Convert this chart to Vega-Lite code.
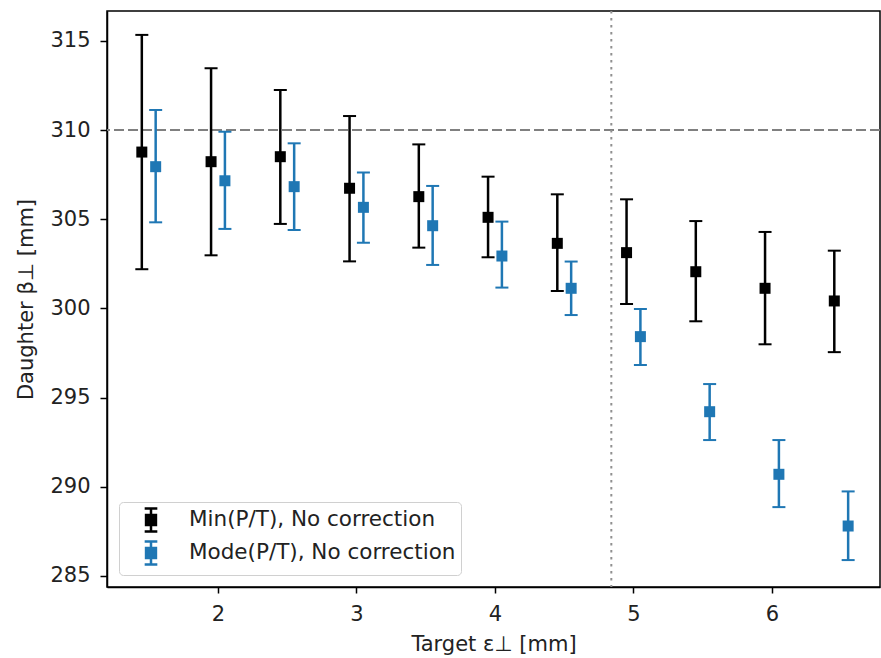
{
  "$schema": "https://vega.github.io/schema/vega-lite/v6.json",
  "width": 773,
  "height": 576,
  "autosize": "none",
  "padding": {"left": 107, "top": 11, "right": 1, "bottom": 71},
  "background": "white",
  "config": {
    "font": "DejaVu Sans",
    "view": {"stroke": "black", "strokeWidth": 1.5},
    "axis": {
      "domainColor": "black",
      "domainWidth": 1.5,
      "tickColor": "black",
      "tickWidth": 1.5,
      "tickSize": 6,
      "labelFontSize": 21,
      "labelColor": "#222222",
      "titleFontSize": 21,
      "titleFontWeight": "normal",
      "titleColor": "#222222",
      "grid": false,
      "labelFlush": false
    }
  },
  "data": {
    "values": [
      {"x": 1.45, "series": "Min(P/T), No correction", "y": 308.77, "lo": 302.2, "hi": 315.34},
      {"x": 1.95, "series": "Min(P/T), No correction", "y": 308.23, "lo": 302.98, "hi": 313.47},
      {"x": 2.45, "series": "Min(P/T), No correction", "y": 308.51, "lo": 304.74, "hi": 312.25},
      {"x": 2.95, "series": "Min(P/T), No correction", "y": 306.74, "lo": 302.64, "hi": 310.79},
      {"x": 3.45, "series": "Min(P/T), No correction", "y": 306.27, "lo": 303.41, "hi": 309.2},
      {"x": 3.95, "series": "Min(P/T), No correction", "y": 305.11, "lo": 302.87, "hi": 307.39},
      {"x": 4.45, "series": "Min(P/T), No correction", "y": 303.65, "lo": 300.98, "hi": 306.4},
      {"x": 4.95, "series": "Min(P/T), No correction", "y": 303.13, "lo": 300.25, "hi": 306.12},
      {"x": 5.45, "series": "Min(P/T), No correction", "y": 302.06, "lo": 299.28, "hi": 304.9},
      {"x": 5.95, "series": "Min(P/T), No correction", "y": 301.13, "lo": 297.99, "hi": 304.29},
      {"x": 6.45, "series": "Min(P/T), No correction", "y": 300.42, "lo": 297.55, "hi": 303.24},
      {"x": 1.55, "series": "Mode(P/T), No correction", "y": 307.95, "lo": 304.83, "hi": 311.13},
      {"x": 2.05, "series": "Mode(P/T), No correction", "y": 307.16, "lo": 304.46, "hi": 309.91},
      {"x": 2.55, "series": "Mode(P/T), No correction", "y": 306.83, "lo": 304.4, "hi": 309.26},
      {"x": 3.05, "series": "Mode(P/T), No correction", "y": 305.67, "lo": 303.69, "hi": 307.62},
      {"x": 3.55, "series": "Mode(P/T), No correction", "y": 304.64, "lo": 302.44, "hi": 306.87},
      {"x": 4.05, "series": "Mode(P/T), No correction", "y": 302.94, "lo": 301.17, "hi": 304.87},
      {"x": 4.55, "series": "Mode(P/T), No correction", "y": 301.13, "lo": 299.63, "hi": 302.63},
      {"x": 5.05, "series": "Mode(P/T), No correction", "y": 298.42, "lo": 296.83, "hi": 299.97},
      {"x": 5.55, "series": "Mode(P/T), No correction", "y": 294.21, "lo": 292.62, "hi": 295.76},
      {"x": 6.05, "series": "Mode(P/T), No correction", "y": 290.7, "lo": 288.86, "hi": 292.62},
      {"x": 6.55, "series": "Mode(P/T), No correction", "y": 287.8, "lo": 285.89, "hi": 289.74}
    ]
  },
  "layer": [
    {
      "data": {"values": [{"ref": 310}]},
      "mark": {"type": "rule", "color": "#808080", "strokeDash": [10, 4], "strokeWidth": 2},
      "encoding": {"y": {"field": "ref", "type": "quantitative"}}
    },
    {
      "data": {"values": [{"xref": 4.84}]},
      "mark": {"type": "rule", "color": "#909090", "strokeDash": [2.5, 4.5], "strokeWidth": 2},
      "encoding": {"x": {"field": "xref", "type": "quantitative"}}
    },
    {
      "mark": {"type": "rule", "strokeWidth": 2.5},
      "encoding": {
        "x": {"field": "x", "type": "quantitative",
              "scale": {"domain": [1.1986, 6.78], "nice": false, "zero": false},
              "axis": {"values": [2, 3, 4, 5, 6], "format": "d", "title": "Target ε⊥ [mm]", "labelPadding": 10, "titlePadding": 9}},
        "y": {"field": "lo", "type": "quantitative",
              "scale": {"domain": [284.38, 316.68], "nice": false, "zero": false},
              "axis": {"values": [285, 290, 295, 300, 305, 310, 315], "title": "Daughter β⊥ [mm]", "tickSize": 7, "labelPadding": 10, "titlePadding": 13}},
        "y2": {"field": "hi"},
        "color": {"field": "series", "type": "nominal",
                  "scale": {"domain": ["Min(P/T), No correction", "Mode(P/T), No correction"], "range": ["black", "#1f77b4"]},
                  "legend": {
                    "orient": "bottom-left",
                    "offset": 12,
                    "title": null,
                    "symbolType": "M-0.55,-1H0.55M0,-1V1M-0.55,1H0.55M-0.43,-0.43H0.43V0.43H-0.43Z",
                    "symbolSize": 529,
                    "symbolStrokeWidth": 2.5,
                    "symbolOpacity": 1,
                    "labelFontSize": 21.5,
                    "labelLimit": 500,
                    "labelColor": "#222222",
                    "labelOffset": 25,
                    "symbolOffset": 14,
                    "padding": 5,
                    "rowPadding": -1,
                    "strokeColor": "#d0d0d0",
                    "fillColor": "rgba(255,255,255,0.8)",
                    "cornerRadius": 4,
                    "encode": {"symbols": {"update": {"stroke": {"scale": "color", "field": "value"}, "fill": {"scale": "color", "field": "value"}}}}
                  }}
      }
    },
    {
      "mark": {"type": "tick", "orient": "horizontal", "size": 13, "thickness": 2, "opacity": 1},
      "encoding": {
        "x": {"field": "x", "type": "quantitative"},
        "y": {"field": "lo", "type": "quantitative"},
        "color": {"field": "series", "type": "nominal"}
      }
    },
    {
      "mark": {"type": "tick", "orient": "horizontal", "size": 13, "thickness": 2, "opacity": 1},
      "encoding": {
        "x": {"field": "x", "type": "quantitative"},
        "y": {"field": "hi", "type": "quantitative"},
        "color": {"field": "series", "type": "nominal"}
      }
    },
    {
      "mark": {"type": "square", "size": 121, "opacity": 1},
      "encoding": {
        "x": {"field": "x", "type": "quantitative"},
        "y": {"field": "y", "type": "quantitative"},
        "color": {"field": "series", "type": "nominal"}
      }
    }
  ]
}
